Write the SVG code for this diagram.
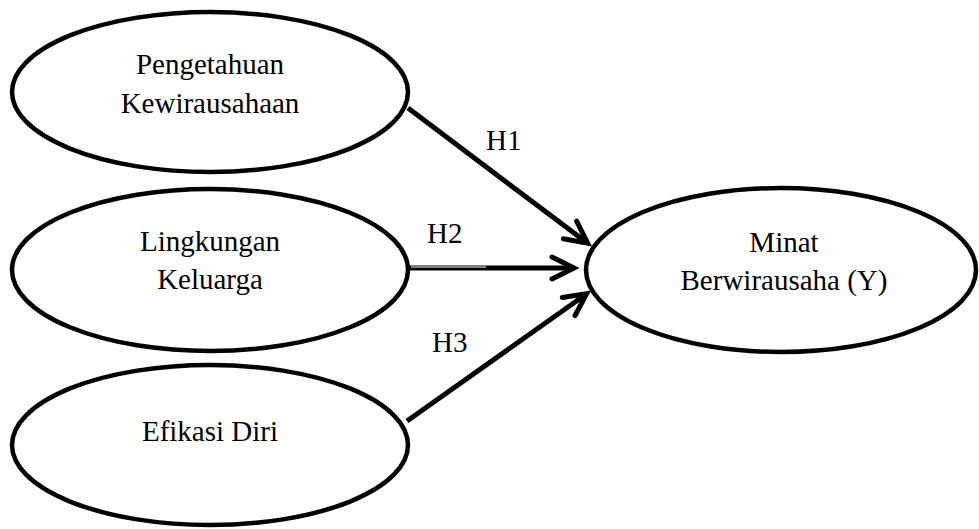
<svg xmlns="http://www.w3.org/2000/svg" width="979" height="529" viewBox="0 0 979 529">
<style>
.node ellipse{fill:#fff;stroke:#000;stroke-width:4.5}
.node text{font-family:"Liberation Serif","Times New Roman",serif;font-size:29px;fill:#000;text-anchor:middle}
.lbl{font-family:"Liberation Serif","Times New Roman",serif;font-size:29px;fill:#000}
.edge{stroke:#000;stroke-width:5;fill:none;marker-end:url(#arr)}
</style>
<defs>
<marker id="arr" markerUnits="userSpaceOnUse" viewBox="-30 -20 40 40" markerWidth="40" markerHeight="40" refX="0" refY="0" orient="auto" overflow="visible">
<path d="M -20 -11 L 2 0 L -20 11" fill="none" stroke="#000" stroke-width="5" stroke-linecap="round" stroke-linejoin="miter"/>
</marker>
</defs>
<rect width="979" height="529" fill="#fff"/>
<g id="n1" class="node">
<ellipse cx="210" cy="92" rx="198" ry="80"/>
<text x="210" y="74">Pengetahuan</text>
<text x="210" y="113">Kewirausahaan</text>
</g>
<g id="n2" class="node">
<ellipse cx="210" cy="270" rx="198" ry="81"/>
<text x="210" y="251">Lingkungan</text>
<text x="210" y="289">Keluarga</text>
</g>
<g id="n3" class="node">
<ellipse cx="210" cy="445" rx="198" ry="80"/>
<text x="210" y="441">Efikasi Diri</text>
</g>
<g id="ny" class="node">
<ellipse cx="781" cy="270" rx="195" ry="82"/>
<text x="784" y="252">Minat</text>
<text x="784" y="290">Berwirausaha (Y)</text>
</g>
<g id="connectors">
<path class="edge" d="M 408 108 L 586 242"/>
<path class="edge" d="M 409 268 L 572 268"/>
<path d="M 411 267 L 486 267" stroke="#fff" stroke-width="1" fill="none"/>
<path class="edge" d="M 407 421 L 585 295"/>
<text class="lbl" x="486" y="150">H1</text>
<text class="lbl" x="427" y="243">H2</text>
<text class="lbl" x="432" y="352">H3</text>
</g>
</svg>
